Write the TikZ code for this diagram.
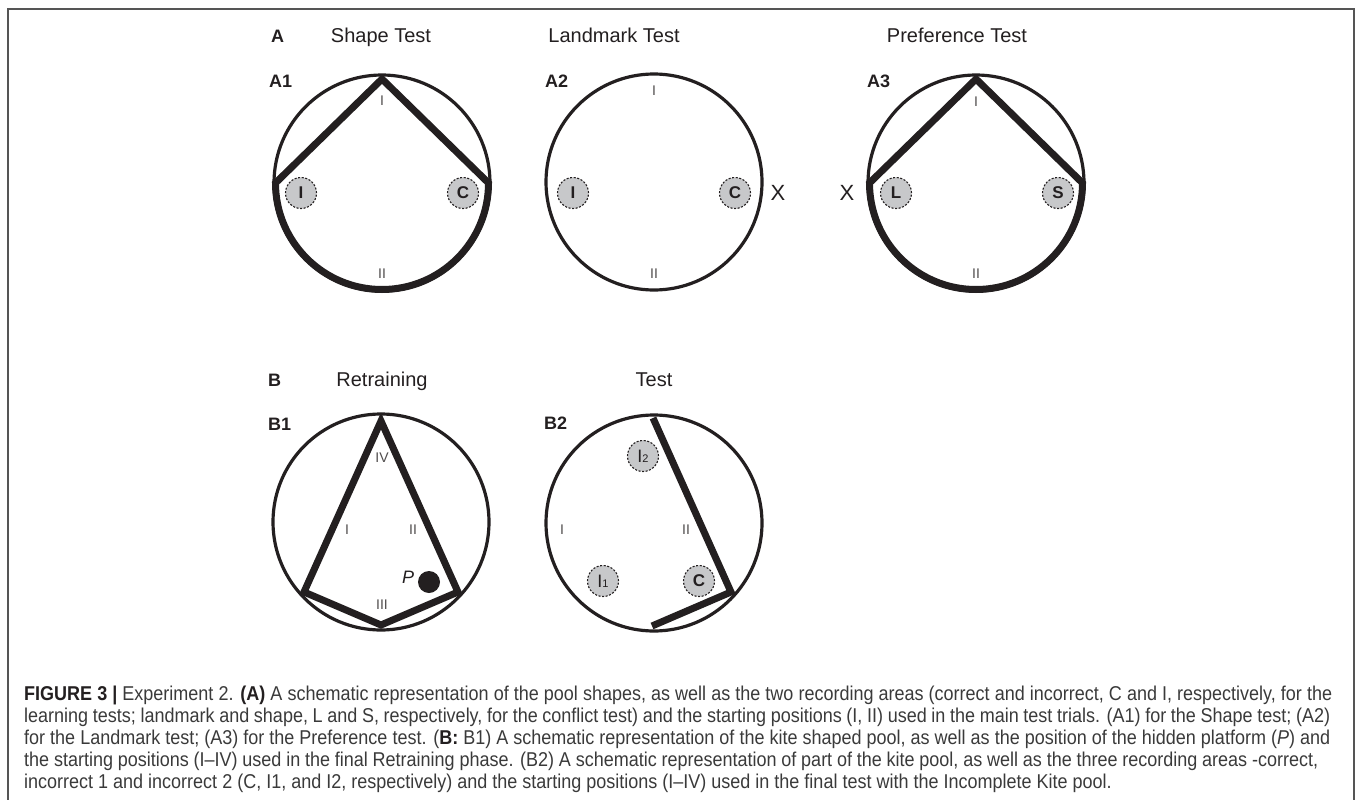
\documentclass[tikz,border=0pt]{standalone}
\usepackage{fontspec}
\setmainfont{Liberation Sans}
\newfontfamily\capfont[FakeStretch=0.9]{Liberation Sans}
\definecolor{ink}{HTML}{231F20}
\definecolor{areafill}{HTML}{C7C8CA}
\definecolor{capgray}{HTML}{3A3A3A}
\definecolor{framegray}{HTML}{555555}
\begin{document}
\begin{tikzpicture}[x=1pt,y=-1pt,
  frame/.style={draw=framegray,line width=1.6pt},
  pool/.style={draw=ink,line width=3.2pt},
  wall/.style={draw=ink,line width=7pt,line join=miter},
  area/.style={circle,draw=ink,fill=areafill,line width=1.1pt,dash pattern=on 2pt off 1.6pt,
    minimum size=31pt,inner sep=0pt,font=\bfseries\fontsize{17}{17}\selectfont,text=ink},
  areathin/.style={area,font=\fontsize{18}{18}\selectfont},
  roman/.style={font=\fontsize{14}{14}\selectfont,text=ink!80,inner sep=0pt},
  panel/.style={font=\bfseries\fontsize{18}{18}\selectfont,text=ink,inner sep=0pt},
  title/.style={font=\fontsize{20}{20}\selectfont,text=ink,inner sep=0pt},
  cross/.style={font=\fontsize{22}{22}\selectfont,text=ink,inner sep=0pt},
  capline/.style={anchor=base west,inner sep=0pt,text=capgray,font=\capfont\fontsize{20}{20}\selectfont}
]
\useasboundingbox (0,0) rectangle (1357,800);
\draw[frame] (8,800) -- (8,9) -- (1354,9) -- (1354,800);

% ---------- Row A headings
\node[panel,anchor=base west] (hA) at (271,43) {A};
\node[title,anchor=base] (tShape) at (381,43) {Shape Test};
\node[title,anchor=base] (tLand) at (614,43) {Landmark Test};
\node[title,anchor=base] (tPref) at (957,43) {Preference Test};

% ---------- A1
\node[panel,anchor=base west] (hA1) at (269,87) {A1};
\coordinate (a1c) at (382,183);
\coordinate (a1t) at (382,79);
\coordinate (a1l) at (275.5,183);
\coordinate (a1r) at (488.5,183);
\draw[pool] (a1c) circle[radius=108];
\draw[wall] (a1l) -- (a1t) -- (a1r) arc[start angle=0,end angle=180,radius=106.5] -- cycle;
\node[roman] (a1s1) at (382,101) {I};
\node[roman] (a1s2) at (382,274) {II};
\node[area] (a1I) at (301,193) {I};
\node[area] (a1C) at (463,193) {C};

% ---------- A2
\node[panel,anchor=base west] (hA2) at (545,87) {A2};
\coordinate (a2c) at (654,182);
\draw[pool] (a2c) circle[radius=108];
\node[roman] (a2s1) at (654,91) {I};
\node[roman] (a2s2) at (654,274) {II};
\node[area] (a2I) at (573,193) {I};
\node[area] (a2C) at (735,193) {C};
\node[cross] (a2X) at (778,193) {X};

% ---------- A3
\node[panel,anchor=base west] (hA3) at (867,87) {A3};
\coordinate (a3c) at (976,183);
\coordinate (a3t) at (976,79);
\coordinate (a3l) at (869.5,183);
\coordinate (a3r) at (1082.5,183);
\draw[pool] (a3c) circle[radius=108];
\draw[wall] (a3l) -- (a3t) -- (a3r) arc[start angle=0,end angle=180,radius=106.5] -- cycle;
\node[roman] (a3s1) at (976,102) {I};
\node[roman] (a3s2) at (976,274) {II};
\node[area] (a3L) at (896,193) {L};
\node[area] (a3S) at (1058,193) {S};
\node[cross] (a3X) at (847,193) {X};

% ---------- Row B headings
\node[panel,anchor=base west] (hB) at (268,386) {B};
\node[title,anchor=base] (tRetr) at (382,386) {Retraining};
\node[title,anchor=base] (tTest) at (654,386) {Test};

% ---------- B1
\node[panel,anchor=base west] (hB1) at (268,430) {B1};
\coordinate (b1c) at (381,522);
\coordinate (b1t) at (381,421);
\coordinate (b1r) at (458,592);
\coordinate (b1b) at (381,625);
\coordinate (b1l) at (304,592);
\draw[pool] (b1c) circle[radius=108];
\draw[wall] (b1t) -- (b1r) -- (b1b) -- (b1l) -- cycle;
\node[roman] (b1s4) at (382,458) {IV};
\node[roman] (b1s1) at (347,530) {I};
\node[roman] (b1s2) at (413,530) {II};
\node[roman] (b1s3) at (382,605) {III};
\node[font=\itshape\fontsize{18}{18}\selectfont,text=ink,inner sep=0pt] (pP) at (408,577) {P};
\node[circle,fill=ink,minimum size=22pt,inner sep=0pt] (plat) at (429,582) {};

% ---------- B2
\node[panel,anchor=base west] (hB2) at (544,429) {B2};
\coordinate (b2c) at (654,523);
\coordinate (b2t) at (653,418);
\coordinate (b2r) at (731,592);
\coordinate (b2b) at (652,626);
\draw[pool] (b2c) circle[radius=108];
\draw[wall] (b2t) -- (b2r) -- (b2b);
\node[roman] (b2s1) at (562,530) {I};
\node[roman] (b2s2) at (686,530) {II};
\node[areathin] (b2I2) at (643,456) {I\fontsize{11}{11}\selectfont 2};
\node[areathin] (b2I1) at (603,581) {I\fontsize{11}{11}\selectfont 1};
\node[area] (b2C) at (699,581) {C};

% ---------- Caption
\node[capline] (cap1) at (24,700) {\hbox to 1308pt{{\bfseries\color{ink}FIGURE 3 |} Experiment 2. {\bfseries\color{ink}(A)} A schematic representation of the pool shapes, as well as the two recording areas (correct and incorrect, C and I, respectively, for the}};
\node[capline] (cap2) at (24,722) {\hbox to 1306pt{learning tests; landmark and shape, L and S, respectively, for the conflict test) and the starting positions (I, II) used in the main test trials. (A1) for the Shape test; (A2)}};
\node[capline] (cap3) at (24,744) {\hbox to 1306pt{for the Landmark test; (A3) for the Preference test. ({\bfseries\color{ink}B:} B1) A schematic representation of the kite shaped pool, as well as the position of the hidden platform (\textit{P}) and}};
\node[capline] (cap4) at (24,766) {\hbox to 1294pt{the starting positions (I–IV) used in the final Retraining phase. (B2) A schematic representation of part of the kite pool, as well as the three recording areas -correct,}};
\node[capline] (cap5) at (24,788) {incorrect 1 and incorrect 2 (C, I1, and I2, respectively) and the starting positions (I–IV) used in the final test with the Incomplete Kite pool.};
\end{tikzpicture}
\end{document}
